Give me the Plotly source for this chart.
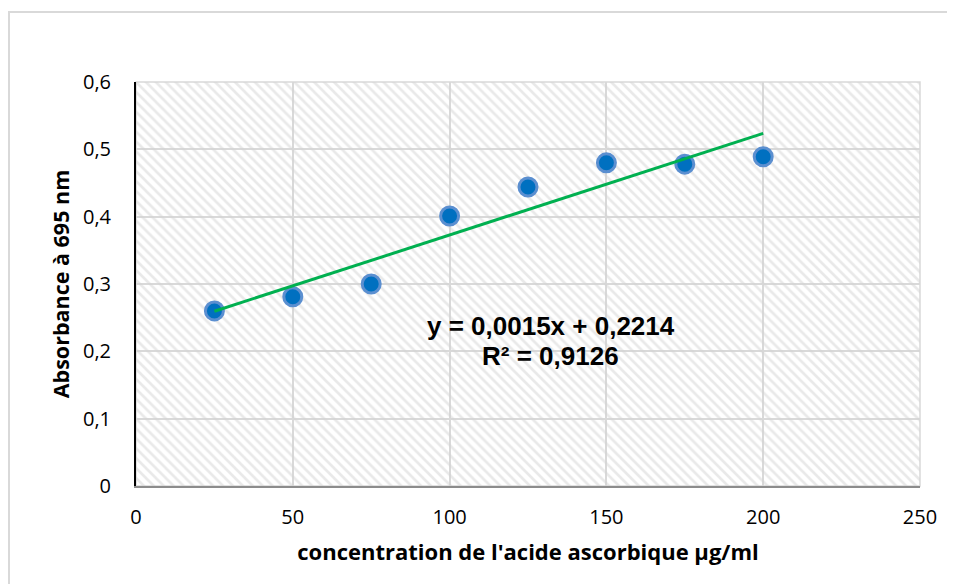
import numpy as np
import plotly.graph_objects as go

conc = [25, 50, 75, 100, 125, 150, 175, 200]
absorb = [0.26, 0.281, 0.300, 0.401, 0.444, 0.480, 0.478, 0.489]
x_ticks = [0, 50, 100, 150, 200, 250]
y_ticks = [0, 0.1, 0.2, 0.3, 0.4, 0.5, 0.6]
eq_lines = ["y = 0,0015x + 0,2214", "R² = 0,9126"]
x_title = "concentration de l'acide ascorbique µg/ml"
y_title = "Absorbance à 695 nm"

slope, intercept = np.polyfit(conc, absorb, 1)
trend_x = [min(conc), max(conc)]
trend_y = [slope * v + intercept for v in trend_x]

fig = go.Figure()
# hatched plot-area background
fig.add_trace(go.Bar(
    x=[(x_ticks[0] + x_ticks[-1]) / 2], y=[y_ticks[-1]], width=[x_ticks[-1] - x_ticks[0]],
    base=0,
    marker=dict(color="rgba(255,255,255,0)", line=dict(width=0),
                pattern=dict(shape="\\", size=7, solidity=0.38,
                             fgcolor="#d4d4d4", bgcolor="rgba(255,255,255,0)")),
    hoverinfo="skip", showlegend=False,
))
fig.add_trace(go.Scatter(
    x=conc, y=absorb, mode="markers",
    marker=dict(size=18, color="#0070C0", line=dict(color="#5B8FD0", width=3)),
    showlegend=False,
))
fig.add_trace(go.Scatter(
    x=trend_x, y=trend_y, mode="lines",
    line=dict(color="#00B050", width=3),
    showlegend=False,
))

tick_font = "'Open Sans', sans-serif"
eq_font = dict(family="'Liberation Sans', Arial, sans-serif", size=26, color="black")
fig.update_layout(
    width=955, height=584,
    margin=dict(l=128, r=43, t=74, b=106),
    paper_bgcolor="white", plot_bgcolor="white",
    separators=", ",
    bargap=0,
    font=dict(family=tick_font, size=20, color="black"),
    shapes=[
        dict(type="rect", xref="paper", yref="paper",
             x0=-127/784, x1=1.2, y0=-0.5, y1=1 + 70/404,
             line=dict(color="#d9d9d9", width=2), layer="below"),
        dict(type="rect", xref="x domain", yref="y domain",
             x0=0, x1=1, y0=0, y1=1,
             line=dict(color="#d9d9d9", width=1.5), layer="below"),
    ],
    annotations=[
        dict(x=132.3, y=0.2377, xref="x", yref="y", text="<b>" + eq_lines[0] + "</b>",
             showarrow=False, font=eq_font),
        dict(x=132.3, y=0.1932, xref="x", yref="y", text="<b>" + eq_lines[1] + "</b>",
             showarrow=False, font=eq_font),
    ],
)
fig.update_xaxes(
    range=[x_ticks[0], x_ticks[-1]], tickvals=x_ticks,
    showgrid=True, gridcolor="#d9d9d9", gridwidth=1.5,
    showline=True, linecolor="#8c8c8c", linewidth=1.5,
    zeroline=False, ticks="", ticklabelstandoff=12,
    title=dict(text="<b>" + x_title + "</b>", font=dict(size=22), standoff=16),
)
fig.update_yaxes(
    range=[y_ticks[0], y_ticks[-1]], tickvals=y_ticks,
    showgrid=True, gridcolor="#d9d9d9", gridwidth=1.5,
    showline=True, linecolor="black", linewidth=2,
    zeroline=False, ticks="", ticklabelstandoff=19,
    title=dict(text="<b>" + y_title + "</b>", font=dict(size=21.5), standoff=7),
)
fig.write_html("out.html")
